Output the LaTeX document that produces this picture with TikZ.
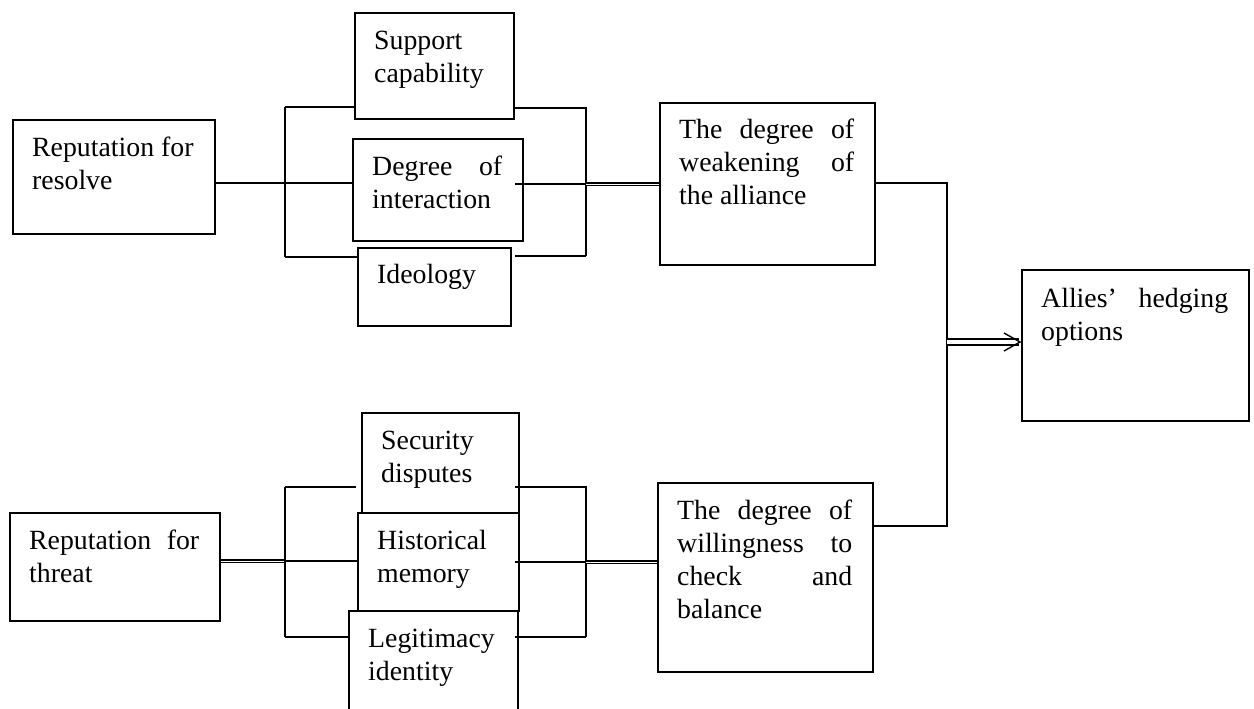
\documentclass[tikz,border=0pt]{standalone}
\usepackage{fontspec}
\setmainfont{Liberation Serif}
\usetikzlibrary{calc}
\begin{document}
\begin{tikzpicture}[x=1pt,y=-1pt,
  box/.style={draw, line width=2.3pt, rectangle, inner sep=0pt, anchor=north west},
  txt/.style={anchor=north west, inner sep=0pt, align=justify, font=\fontsize{27.8}{33}\selectfont},
  conn/.style={line width=1.4pt},
  dbl/.style={double, line width=1.2pt, double distance=1pt},
  heavy/.style={line width=2.8pt},
  arr/.style={double, line width=1.3pt, double distance=4.5pt}]
\clip (0,0) rectangle (1254,709);
\fill[white] (0,0) rectangle (1254,709);

% boxes
\node[box, minimum width=202pt, minimum height=114pt] (res)   at (12,119) {};
\node[box, minimum width=159pt, minimum height=106pt] (sup)   at (354,12) {};
\node[box, minimum width=170pt, minimum height=102pt] (deg)   at (352,138) {};
\node[box, minimum width=153pt, minimum height=78pt]  (ideo)  at (357,247) {};
\node[box, minimum width=215pt, minimum height=162pt] (weak)  at (659,102) {};
\node[box, minimum width=227pt, minimum height=151pt] (hedge) at (1021,269) {};
\node[box, minimum width=210pt, minimum height=108pt] (thr)   at (9,512) {};
\node[box, minimum width=157pt, minimum height=100pt] (sec)   at (361,412) {};
\node[box, minimum width=161pt, minimum height=98pt]  (hist)  at (357,512) {};
\node[box, minimum width=169pt, minimum height=130pt] (leg)   at (348,610) {};
\node[box, minimum width=215pt, minimum height=189pt] (will)  at (657,482) {};

% texts
\node[txt, text width=168pt] (resT)   at (32,133)   {\strut Reputation for\hfil\break resolve};
\node[txt, text width=119pt] (supT)   at (374,26)   {\strut Support\linebreak capability};
\node[txt, text width=130pt] (degT)   at (372,152)  {\strut Degree of\linebreak interaction};
\node[txt, text width=113pt] (ideoT)  at (377,260)  {\strut Ideology};
\node[txt, text width=175pt] (weakT)  at (679,115)  {\strut The degree of\linebreak weakening of\linebreak the alliance};
\node[txt, text width=187pt] (hedgeT) at (1041,284) {\strut Allies’ hedging\linebreak options};
\node[txt, text width=170pt] (thrT)   at (29,526)   {\strut Reputation for\linebreak threat};
\node[txt, text width=117pt] (secT)   at (381,426)  {\strut Security\linebreak disputes};
\node[txt, text width=121pt] (histT)  at (377,526)  {\strut Historical\linebreak memory};
\node[txt, text width=129pt] (legT)   at (368,624)  {\strut Legitimacy\linebreak identity};
\node[txt, text width=175pt] (willT)  at (677,496)  {\strut The degree of\linebreak willingness to\linebreak check and\linebreak balance};

% junction coordinates
\coordinate (jL1t) at (285,107);
\coordinate (jL1m) at (285,183);
\coordinate (jL1b) at (285,257);
\coordinate (jR1t) at (586,108);
\coordinate (jR1m) at (586,184);
\coordinate (jR1b) at (586,256);
\coordinate (jL2t) at (285,487);
\coordinate (jL2m) at (285,561);
\coordinate (jL2b) at (285,637);
\coordinate (jR2t) at (586,487);
\coordinate (jR2m) at (586,562);
\coordinate (jR2b) at (586,637);
\coordinate (jC1) at (947,183);
\coordinate (jC2) at (947,526);
\coordinate (jA)  at (947,342);

% upper group
\draw[heavy] (res.east |- jL1m) -- (jL1m);
\draw[conn] (jL1t) -- (jL1b);
\draw[conn] (jL1t) -- (sup.west |- jL1t);
\draw[conn] (jL1m) -- (deg.west |- jL1m);
\draw[conn] (jL1b) -- (ideo.west |- jL1b);
\draw[conn] (sup.east |- jR1t) -- (jR1t) -- (jR1b);
\draw[conn] ([xshift=-9pt]deg.east |- jR1m) -- (jR1m);
\draw[conn] ([xshift=3pt]ideo.east |- jR1b) -- (jR1b);
\draw[dbl] (jR1m) -- (weak.west |- jR1m);

% lower group
\draw[dbl] (thr.east |- jL2m) -- (jL2m);
\draw[conn] (jL2t) -- (jL2b);
\draw[conn] (jL2t) -- ([xshift=-5pt]sec.west |- jL2t);
\draw[conn] (jL2m) -- (hist.west |- jL2m);
\draw[conn] (jL2b) -- (leg.west |- jL2b);
\draw[conn] ([xshift=-5pt]sec.east |- jR2t) -- (jR2t) -- (jR2b);
\draw[conn] ([xshift=-5pt]hist.east |- jR2m) -- (jR2m);
\draw[conn] ([xshift=-4pt]leg.east |- jR2b) -- (jR2b);
\draw[dbl] (jR2m) -- (will.west |- jR2m);

% right side
\draw[conn] (weak.east |- jC1) -- (jC1) -- (jC2) -- (will.east |- jC2);
\draw[arr] (jA) -- ([xshift=-2pt]hedge.west |- jA);
\draw[conn] ($(hedge.west |- jA)+(-17,-9)$) -- ([xshift=-1pt]hedge.west |- jA) -- ($(hedge.west |- jA)+(-17,9)$);
\end{tikzpicture}
\end{document}
